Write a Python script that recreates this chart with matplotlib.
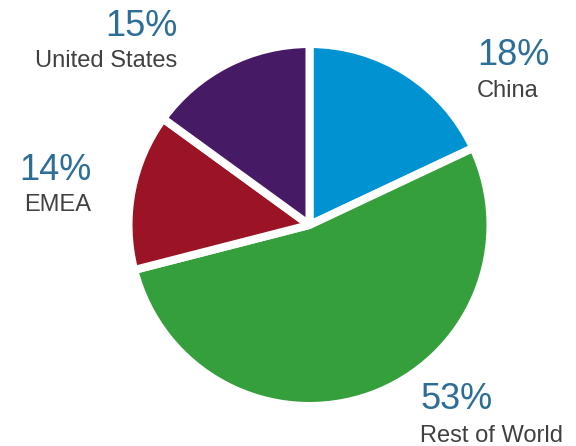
import matplotlib
matplotlib.use("Agg")
import matplotlib.pyplot as plt

categories = ["China", "Rest of World", "EMEA", "United States"]
shares = [18, 53, 14, 15]
pct_labels = ["18%", "53%", "14%", "15%"]
colors = ["#0092D1", "#349F3B", "#9A1426", "#461A65"]

W, H = 576, 446
fig = plt.figure(figsize=(W / 100, H / 100), dpi=100)
ax = fig.add_axes([0, 0, 1, 1])
ax.set_xlim(0, W)
ax.set_ylim(0, H)
ax.set_aspect("equal")
ax.axis("off")

plt.rcParams["font.family"] = ["Liberation Sans", "DejaVu Sans"]

ax.pie(shares, colors=colors, startangle=90, counterclock=False,
       center=(309.5, H - 225), radius=181, frame=True,
       wedgeprops=dict(edgecolor="white", linewidth=5.8, joinstyle="bevel"))
ax.set_xlim(0, W)
ax.set_ylim(0, H)
ax.axis("off")

# label anchor positions (x, pct baseline, name baseline, alignment)
label_pos = {
    "China": (477, 65, 97, "left"),
    "Rest of World": (420, 409, 442, "left"),
    "EMEA": (91, 180, 211, "right"),
    "United States": (177, 36, 67, "right"),
}
pct_color = "#2C6E97"
name_color = "#404040"
for cat, pct in zip(categories, pct_labels):
    x, yb1, yb2, ha = label_pos[cat]
    ax.text(x, H - yb1, pct, ha=ha, va="baseline", fontsize=26, color=pct_color)
    ax.text(x, H - yb2, cat, ha=ha, va="baseline", fontsize=17, color=name_color)

fig.savefig("out.png", dpi=100)
